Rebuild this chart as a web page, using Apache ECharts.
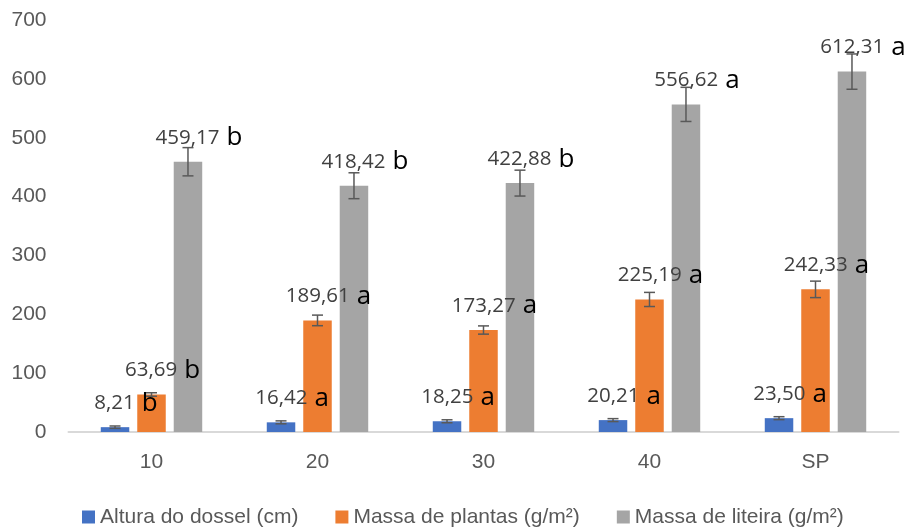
<!DOCTYPE html>
<html>
<head>
<meta charset="utf-8">
<script src="https://cdn.jsdelivr.net/npm/echarts@6/dist/echarts.min.js"></script>
<style>
  html, body { margin: 0; padding: 0; background: #ffffff; }
  #chart { width: 904px; height: 527px; }
</style>
</head>
<body>
<div id="chart"></div>
<script>
// ---- data ----
const categories = ['10', '20', '30', '40', 'SP'];
const seriesNames = ['Altura do dossel (cm)', 'Massa de plantas (g/m²)', 'Massa de liteira (g/m²)'];
const altura  = [8.21, 16.42, 18.25, 20.21, 23.50];
const plantas = [63.69, 189.61, 173.27, 225.19, 242.33];
const liteira = [459.17, 418.42, 422.88, 556.62, 612.31];
const alturaErr  = [2, 2.5, 2.5, 2.5, 2.5];
const plantasErr = [3, 9, 7, 12, 14];
const liteiraErr = [24, 22, 22, 29, 30];
const alturaLetters  = ['b', 'a', 'a', 'a', 'a'];
const plantasLetters = ['b', 'a', 'a', 'a', 'a'];
const liteiraLetters = ['b', 'b', 'b', 'a', 'a'];
const yMin = 0, yMax = 700, yStep = 100;

// ---- styling ----
const colors = ['#4472C4', '#ED7D31', '#A5A5A5'];
const BAR_W = 28.5;
const BAR_GAP = 0.28;
const PITCH = BAR_W * (1 + BAR_GAP);
const axisFont = 'Liberation Sans, Arial, sans-serif';
const labelFont = 'Open Sans, DejaVu Sans, sans-serif';

function fmt(v) { return v.toFixed(2).replace('.', ','); }

function barSeries(idx, values, letters) {
  return {
    name: seriesNames[idx],
    type: 'bar',
    barWidth: BAR_W,
    barGap: (BAR_GAP * 100) + '%',
    itemStyle: { color: colors[idx] },
    data: values,
    z: 2,
    label: {
      show: true,
      position: 'top',
      distance: 10,
      offset: [11, 0],
      formatter: function (p) {
        return '{v|' + fmt(p.value) + '}{g|}{l|' + letters[p.dataIndex] + '}';
      },
      rich: {
        v: { fontFamily: labelFont, fontSize: 20.5, color: '#404040', lineHeight: 28 },
        g: { width: 7, lineHeight: 28 },
        l: { fontFamily: labelFont, fontSize: 26, color: '#000000', lineHeight: 28 }
      }
    }
  };
}

function errSeries(idx, values, errs) {
  const off = (idx - 1) * PITCH;
  return {
    type: 'custom',
    name: 'err' + idx,
    z: 3,
    silent: true,
    data: values.map(function (v, i) { return [i, v, errs[i]]; }),
    encode: { x: 0, y: 1 },
    renderItem: function (params, api) {
      const x = api.value(0), y = api.value(1), e = api.value(2);
      const hi = api.coord([x, y + e]);
      const lo = api.coord([x, y - e]);
      const cx = hi[0] + off;
      const cap = 5.5;
      const st = { stroke: '#595959', lineWidth: 1.5 };
      return {
        type: 'group',
        children: [
          { type: 'line', shape: { x1: cx, y1: hi[1], x2: cx, y2: lo[1] }, style: st },
          { type: 'line', shape: { x1: cx - cap, y1: hi[1], x2: cx + cap, y2: hi[1] }, style: st },
          { type: 'line', shape: { x1: cx - cap, y1: lo[1], x2: cx + cap, y2: lo[1] }, style: st }
        ]
      };
    }
  };
}

const chart = echarts.init(document.getElementById('chart'), null, { renderer: 'canvas' });
chart.setOption({
  animation: false,
  backgroundColor: '#ffffff',
  grid: { left: 68.5, right: 5.5, top: 20, bottom: 95, containLabel: false },
  legend: {
    data: seriesNames,
    left: 77,
    top: 500,
    icon: 'rect',
    itemWidth: 13,
    itemHeight: 13,
    itemGap: 37,
    textStyle: { fontFamily: axisFont, fontSize: 21, color: '#595959', lineHeight: 24 }
  },
  xAxis: {
    type: 'category',
    data: categories,
    axisLine: { show: true, lineStyle: { color: '#D9D9D9', width: 2 } },
    axisTick: { show: false },
    axisLabel: { fontFamily: axisFont, fontSize: 21, color: '#595959', margin: 20, lineHeight: 21 },
    splitLine: { show: false }
  },
  yAxis: {
    type: 'value',
    min: yMin,
    max: yMax,
    interval: yStep,
    axisLine: { show: false },
    axisTick: { show: false },
    splitLine: { show: false },
    axisLabel: { fontFamily: axisFont, fontSize: 21, color: '#595959', margin: 22 }
  },
  series: [
    barSeries(0, altura, alturaLetters),
    barSeries(1, plantas, plantasLetters),
    barSeries(2, liteira, liteiraLetters),
    errSeries(0, altura, alturaErr),
    errSeries(1, plantas, plantasErr),
    errSeries(2, liteira, liteiraErr)
  ]
});
</script>
</body>
</html>
